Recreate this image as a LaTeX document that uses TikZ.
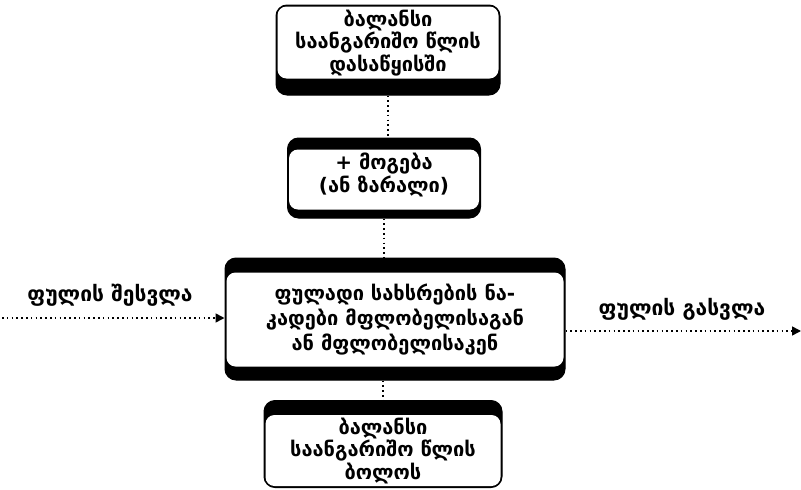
\documentclass[tikz,border=0pt]{standalone}
\usepackage{fontspec}
\setmainfont{DejaVu Sans}
\usetikzlibrary{arrows.meta}
\tikzset{
  frame/.style={draw=black, fill=black, line width=1pt, rounded corners=11pt, inner sep=0pt},
  inner/.style={fill=white, rounded corners=9pt},
  gtext/.style={align=center, font=\bfseries\fontsize{20}{21}\selectfont, inner sep=1pt},
  flow/.style={line width=1.6pt, dash pattern=on 1.6pt off 3.2pt},
  side/.style={font=\bfseries\fontsize{21}{22}\selectfont, inner sep=1pt},
}
\begin{document}
\begin{tikzpicture}[x=1pt,y=-1pt]
\useasboundingbox (0,0) rectangle (801,490);
% box 1
\node[frame, minimum width=224pt, minimum height=90pt] (b1) at (388,50) {};
\fill[inner] ([shift={(2pt,-2pt)}]b1.north west) rectangle ([shift={(-2pt,17pt)}]b1.south east);
\node[gtext] (t1) at (388,43) {ბალანსი\\საანგარიშო წლის\\დასაწყისში};
% box 2
\node[frame, minimum width=193pt, minimum height=80pt] (b2) at (384,178) {};
\fill[inner] ([shift={(2pt,-12pt)}]b2.north west) rectangle ([shift={(-2pt,9pt)}]b2.south east);
\node[gtext] (t2) at (384,175) {+ მოგება\\(ან ზარალი)};
% box 3
\node[frame, minimum width=340pt, minimum height=122pt] (b3) at (395,319) {};
\fill[inner] ([shift={(2pt,-15pt)}]b3.north west) rectangle ([shift={(-2pt,14pt)}]b3.south east);
\node[gtext, font=\bfseries\fontsize{20}{25}\selectfont] (t3) at (395,320) {ფულადი სახსრების ნა-\\კადები მფლობელისაგან\\ან მფლობელისაკენ};
% box 4
\node[frame, minimum width=238pt, minimum height=87pt] (b4) at (383,444) {};
\fill[inner] ([shift={(2pt,-15pt)}]b4.north west) rectangle ([shift={(-2pt,2pt)}]b4.south east);
\node[gtext] (t4) at (383,451) {ბალანსი\\საანგარიშო წლის\\ბოლოს};
% connectors
\draw[flow] (b1.south) -- (b1.south |- b2.north);
\draw[flow] (b2.south) -- (b2.south |- b3.north);
\draw[flow] (b3.south -| b4.north) -- (b4.north);
\coordinate (lin) at (2,318);
\coordinate (rout) at (801,331);
\draw[flow, -{Triangle[length=9pt,width=9pt]}] (lin) -- (lin -| b3.west);
\draw[flow, -{Triangle[length=9pt,width=9pt]}] (rout -| b3.east) -- (rout);
% side labels
\node[side] (lin-l) at (110,295) {ფულის შესვლა};
\node[side] (rout-l) at (682,309) {ფულის გასვლა};
\end{tikzpicture}
\end{document}
